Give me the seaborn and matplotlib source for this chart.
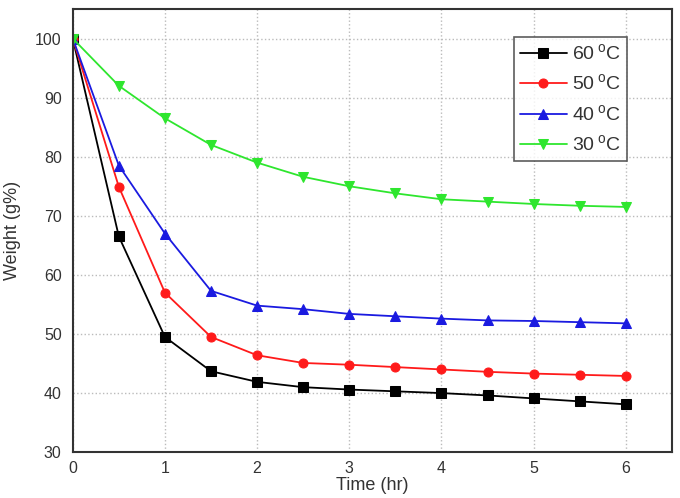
import numpy as np
import pandas as pd
import matplotlib
matplotlib.use("Agg")
import matplotlib.pyplot as plt
from matplotlib.ticker import MultipleLocator
import seaborn as sns

# ── Data ─────────────────────────────────────────────────────────────────────
time_hr = [0, 0.5, 1, 1.5, 2, 2.5, 3, 3.5, 4, 4.5, 5, 5.5, 6]
w_60 = [100, 66.5, 49.5, 43.7, 41.9, 41.0, 40.6, 40.3, 40.0, 39.6, 39.1, 38.6, 38.1]
w_50 = [100, 74.9, 57.0, 49.5, 46.4, 45.1, 44.8, 44.4, 44.0, 43.6, 43.3, 43.1, 42.9]
w_40 = [100, 78.5, 67.0, 57.3, 54.8, 54.2, 53.4, 53.0, 52.6, 52.3, 52.2, 52.0, 51.8]
w_30 = [100, 92.0, 86.5, 82.0, 79.0, 76.6, 75.0, 73.8, 72.8, 72.4, 72.0, 71.7, 71.5]
labels = [r"60$\,^{\rm o}$C", r"50$\,^{\rm o}$C", r"40$\,^{\rm o}$C", r"30$\,^{\rm o}$C"]

colors = ["#000000", "#ff1a1a", "#1a1ae0", "#2ee62e"]
markers = ["s", "o", "^", "v"]

frames = []
for lab, ys in zip(labels, [w_60, w_50, w_40, w_30]):
    frames.append(pd.DataFrame({"time": time_hr, "weight": ys, "temp": lab}))
df = pd.concat(frames, ignore_index=True)

# ── Plot ─────────────────────────────────────────────────────────────────────
sns.set_style("white")
plt.rcParams["font.family"] = ["Liberation Sans", "DejaVu Sans"]
plt.rcParams["mathtext.fontset"] = "custom"
plt.rcParams["mathtext.rm"] = "Liberation Sans"

fig = plt.figure(figsize=(6.8, 4.98), dpi=100)
ax = fig.add_axes([0.107, 0.092, 0.881, 0.890])

sns.lineplot(data=df, x="time", y="weight", hue="temp", style="temp",
             palette=dict(zip(labels, colors)),
             markers=dict(zip(labels, markers)), dashes=False,
             markersize=6.5, linewidth=1.3, markeredgecolor=None, ax=ax)

ax.set_xlim(0, 6.5)
ax.set_ylim(30, 105)
ax.xaxis.set_major_locator(MultipleLocator(1))
ax.xaxis.set_minor_locator(MultipleLocator(0.5))
ax.yaxis.set_major_locator(MultipleLocator(10))
ax.yaxis.set_minor_locator(MultipleLocator(5))
ax.tick_params(which="both", direction="in", colors="#333333", labelsize=11.5)
ax.tick_params(which="major", length=5, width=1.2)
ax.tick_params(axis="y", which="major", pad=8)
ax.tick_params(axis="x", which="major", pad=6)
ax.tick_params(which="minor", length=3, width=1.0)
ax.grid(True, which="major", linestyle=":", color="#bbbbbb", linewidth=1)
for s in ax.spines.values():
    s.set_color("#333333")
    s.set_linewidth(1.5)

ax.set_xlabel("Time (hr)", fontsize=13, color="#333333", labelpad=1)
ax.set_ylabel("Weight (g%)", fontsize=13, color="#333333", labelpad=10)

leg = ax.legend(loc="upper right", bbox_to_anchor=(0.941, 0.958), fontsize=14,
                frameon=True, fancybox=False, handlelength=2.4,
                handletextpad=0.3, borderpad=0.3, labelspacing=0.5,
                labelcolor="#333333")
leg.get_frame().set_edgecolor("#333333")
leg.get_frame().set_linewidth(1.2)

fig.savefig("out.png", dpi=100)
